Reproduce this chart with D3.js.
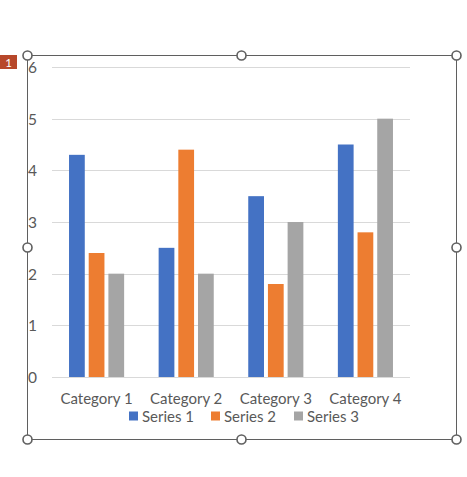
<!DOCTYPE html>
<html><head><meta charset="utf-8">
<script src="https://cdn.jsdelivr.net/npm/d3@7"></script>
<style>body{margin:0;background:#fff}svg{display:block}text{font-family:Lato,"Open Sans",sans-serif}</style>
</head><body>
<script>
const categories = ["Category 1","Category 2","Category 3","Category 4"];
const seriesNames = ["Series 1","Series 2","Series 3"];
const series1 = [4.3, 2.5, 3.5, 4.5];
const series2 = [2.4, 4.4, 1.8, 2.8];
const series3 = [2, 2, 3, 5];
const yTicks = [0,1,2,3,4,5,6];
const colors = ["#4472C4","#ED7D31","#A5A5A5"];
const allSeries = [series1, series2, series3];

const W = 467, H = 477;
const svg = d3.select("body").append("svg").attr("width", W).attr("height", H);

const x0 = d3.scaleBand().domain(categories).range([52, 410]).paddingInner(0.385).paddingOuter(0.19);
const x1 = d3.scaleBand().domain(seriesNames).range([0, x0.bandwidth()]).paddingInner(0.2);
const y = d3.scaleLinear().domain([0, 6]).range([377, 67]);

// gridlines
svg.append("g").selectAll("line").data(yTicks).join("line")
  .attr("x1", 52).attr("x2", 410)
  .attr("y1", d => Math.round(y(d)) + 0.5).attr("y2", d => Math.round(y(d)) + 0.5)
  .attr("stroke", "#D9D9D9").attr("stroke-width", 1);

// y tick labels
svg.append("g").selectAll("text").data(yTicks).join("text")
  .attr("x", 37).attr("y", d => y(d)).attr("text-anchor", "end")
  .attr("dominant-baseline", "central")
  .attr("font-size", 15.5).attr("fill", "#595959").text(d => d);

// bars
const groups = svg.append("g").selectAll("g").data(categories).join("g")
  .attr("transform", c => `translate(${x0(c)},0)`);
groups.selectAll("rect").data((c, i) => allSeries.map((s, j) => ({name: seriesNames[j], v: s[i], j})))
  .join("rect")
  .attr("x", d => x1(d.name)).attr("width", x1.bandwidth())
  .attr("y", d => y(d.v)).attr("height", d => y(0) - y(d.v))
  .attr("fill", d => colors[d.j]);

// category labels
svg.append("g").selectAll("text").data(categories).join("text")
  .attr("x", c => x0(c) + x0.bandwidth() / 2).attr("y", 404)
  .attr("text-anchor", "middle").attr("font-size", 15).attr("fill", "#595959").text(c => c);

// legend
const legendX = [129, 211, 294];
const lg = svg.append("g").selectAll("g").data(seriesNames).join("g")
  .attr("transform", (d, i) => `translate(${legendX[i]},416)`);
lg.append("rect").attr("x", 0).attr("y", -4.5).attr("width", 9).attr("height", 9).attr("fill", (d, i) => colors[i]);
lg.append("text").attr("x", 13).attr("y", 0).attr("dominant-baseline", "central")
  .attr("font-size", 15).attr("fill", "#595959").text(d => d);

// selection frame
svg.append("rect").attr("x", 27.5).attr("y", 55.5).attr("width", 429).attr("height", 384)
  .attr("fill", "none").attr("stroke", "#5f5f5f").attr("stroke-width", 1);
const handles = [[27,55],[241,55],[456,55],[27,247],[456,247],[27,439],[241,439],[456,439]];
svg.append("g").selectAll("circle").data(handles).join("circle")
  .attr("cx", d => d[0] + 0.5).attr("cy", d => d[1] + 0.5).attr("r", 4.5)
  .attr("fill", "#fff").attr("stroke", "#5f5f5f").attr("stroke-width", 1.6);

// badge
svg.append("rect").attr("x", 0).attr("y", 55).attr("width", 17).attr("height", 14).attr("fill", "#B7472A");
svg.append("text").attr("x", 8.5).attr("y", 62.5).attr("text-anchor", "middle").attr("dominant-baseline", "central")
  .attr("font-size", 11.5).attr("fill", "#fff").text("1");
</script>
</body></html>
